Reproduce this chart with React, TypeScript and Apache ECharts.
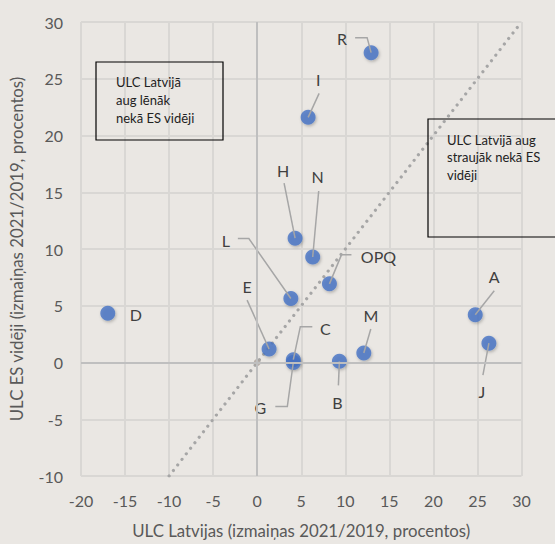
import React, { useEffect, useRef } from "react";
import * as echarts from "echarts";

// ---- data ----
const categories = ["A", "B", "C", "D", "E", "G", "H", "I", "J", "L", "M", "N", "OPQ", "R"];
const latviaULC = [24.75, 9.33, 4.1, -16.96, 1.35, 4.1, 4.3, 5.78, 26.3, 3.82, 12.1, 6.3, 8.2, 12.93];
const euULC = [4.2, 0.1, 0.25, 4.33, 1.18, 0.0, 10.95, 21.6, 1.7, 5.64, 0.83, 9.3, 6.93, 27.3];
const diagonal = [[-10, -10], [30, 30]];
const origin = [[0, 0]];
const xAxisRange = { min: -20, max: 30, interval: 5 };
const yAxisRange = { min: -10, max: 30, interval: 5 };
const xTitle = "ULC Latvijas (izmaiņas 2021/2019, procentos)";
const yTitle = "ULC ES vidēji (izmaiņas 2021/2019, procentos)";
const boxSlower = "ULC Latvijā\naug lēnāk\nnekā ES vidēji";
const boxFaster = "ULC Latvijā aug\nstraujāk nekā ES\nvidēji";

// label placement (pixel offsets from the marker centre)
const labelPlacement: Record<string, { label: number[]; line: number[][] }> = {
  A: { label: [19, -38], line: [[19, -24], [0, 0]] },
  B: { label: [-2, 41], line: [[-1, 24], [0, 0]] },
  C: { label: [32, -31], line: [[19, -33], [7, -33], [0, 0]] },
  D: { label: [28, 1], line: [] },
  E: { label: [-22, -63], line: [[-22, -49], [0, 0]] },
  G: { label: [-33, 45], line: [[-18, 44], [-6, 44], [0, 0]] },
  H: { label: [-12, -68], line: [[-11, -55], [0, 0]] },
  I: { label: [10, -38], line: [[11, -24], [0, 0]] },
  J: { label: [-7, 48], line: [[-6, 32], [0, 0]] },
  L: { label: [-65, -58], line: [[-53, -60], [-42, -60], [0, 0]] },
  M: { label: [7, -38], line: [[7, -24], [0, 0]] },
  N: { label: [5, -80], line: [[6, -66], [0, 0]] },
  OPQ: { label: [49, -27], line: [[22, -29], [12, -29], [0, 0]] },
  R: { label: [-29, -14], line: [[-16, -15], [-4, -15], [0, 0]] },
};

const FONT = "Lato, 'Noto Sans', sans-serif";
const BG = "#EAE7E3";

export default function App() {
  const ref = useRef<HTMLDivElement>(null);
  useEffect(() => {
    if (!ref.current) return;
    const chart = echarts.init(ref.current, undefined, { renderer: "svg" });
    const points = categories.map((c, i) => ({ name: c, value: [latviaULC[i], euULC[i]] }));
    const option: any = {
      animation: false,
      backgroundColor: BG,
      textStyle: { fontFamily: FONT },
      grid: { left: 81, right: 33.5, top: 22, bottom: 64.5, containLabel: false },
      xAxis: {
        type: "value",
        min: xAxisRange.min,
        max: xAxisRange.max,
        interval: xAxisRange.interval,
        name: xTitle,
        nameLocation: "middle",
        nameGap: 46,
        nameTextStyle: { fontFamily: FONT, fontSize: 16.8, color: "#595959" },
        axisLine: { show: false, onZero: false },
        axisTick: { show: false },
        axisLabel: { margin: 16, fontFamily: FONT, fontSize: 16, color: "#595959" },
        splitLine: { show: true, lineStyle: { color: "#D9D7D4", width: 2 } },
      },
      yAxis: {
        type: "value",
        min: yAxisRange.min,
        max: yAxisRange.max,
        interval: yAxisRange.interval,
        name: yTitle,
        nameLocation: "middle",
        nameGap: 56,
        nameTextStyle: { fontFamily: FONT, fontSize: 16.8, color: "#595959" },
        axisLine: { show: false, onZero: false },
        axisTick: { show: false },
        axisLabel: { margin: 18, fontFamily: FONT, fontSize: 16, color: "#595959" },
        splitLine: { show: true, lineStyle: { color: "#D9D7D4", width: 2 } },
      },
      series: [
        {
          type: "line",
          data: diagonal,
          showSymbol: false,
          symbol: "none",
          z: 1,
          lineStyle: { color: "#A6A6A6", width: 3.2, type: [0.01, 7], cap: "round" },
          markLine: {
            silent: true,
            symbol: "none",
            label: { show: false },
            lineStyle: { color: "#BFBFBF", width: 2, type: "solid" },
            data: [{ xAxis: 0 }, { yAxis: 0 }],
          },
        },
        {
          type: "scatter",
          data: origin,
          symbolSize: 7,
          z: 2,
          itemStyle: { color: "#ADA49C" },
        },
        {
          type: "scatter",
          data: points,
          symbolSize: 15,
          z: 3,
          itemStyle: {
            color: "#4472C4",
            shadowBlur: 3,
            shadowColor: "rgba(0,0,0,0.3)",
            shadowOffsetX: 1,
            shadowOffsetY: 1.5,
          },
        },
        {
          type: "custom",
          z: 4,
          data: points,
          encode: { x: 0, y: 1 },
          renderItem: (params: any, api: any) => {
            const name = categories[params.dataIndex];
            const p = api.coord([api.value(0), api.value(1)]);
            const spec = labelPlacement[name];
            const children: any[] = [];
            if (spec.line.length > 1) {
              children.push({
                type: "polyline",
                shape: { points: spec.line.map((o) => [p[0] + o[0], p[1] + o[1]]) },
                style: { stroke: "#A6A6A6", lineWidth: 1.5, fill: null },
              });
            }
            children.push({
              type: "text",
              x: p[0] + spec.label[0],
              y: p[1] + spec.label[1],
              style: {
                text: name,
                align: "center",
                verticalAlign: "middle",
                fontFamily: FONT,
                fontSize: 16,
                fill: "#404040",
              },
            });
            return { type: "group", children };
          },
        },
      ],
      graphic: [
        {
          type: "rect",
          shape: { x: 96, y: 62, width: 127, height: 78 },
          style: { fill: "none", stroke: "#000", lineWidth: 1.2 },
          z: 10,
        },
        {
          type: "text",
          x: 116,
          y: 72.5,
          style: { text: boxSlower, fontFamily: FONT, fontSize: 13, lineHeight: 18, fill: "#222", verticalAlign: "top" },
          z: 10,
        },
        {
          type: "rect",
          shape: { x: 428, y: 119, width: 140, height: 118 },
          style: { fill: "none", stroke: "#000", lineWidth: 1.2 },
          z: 10,
        },
        {
          type: "text",
          x: 447,
          y: 131,
          style: { text: boxFaster, fontFamily: FONT, fontSize: 13, lineHeight: 17.5, fill: "#222", verticalAlign: "top" },
          z: 10,
        },
      ],
    };
    chart.setOption(option);
    return () => chart.dispose();
  }, []);
  return <div ref={ref} style={{ position: "fixed", left: 0, top: 0, width: 555, height: 544 }} />;
}
